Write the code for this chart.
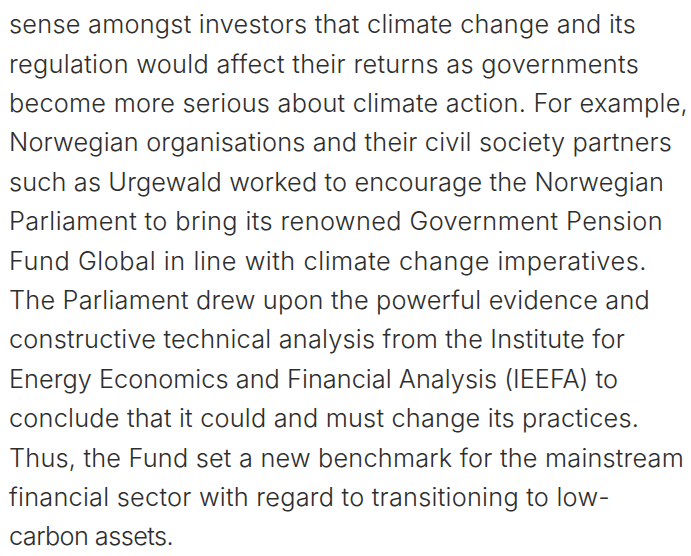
<!DOCTYPE html>
<html>
<head>
<meta charset="utf-8">
<script src="https://cdn.jsdelivr.net/npm/chart.js@4"></script>
<style>
  html, body { margin: 0; padding: 0; background: #ffffff; }
  body { width: 691px; height: 556px; position: relative; overflow: hidden; }
  .ln { position: absolute; left: 0; white-space: pre; font-family: Inter, Lato, sans-serif;
        font-weight: 300; color: #2e2e2e; line-height: 1; }
</style>
</head>
<body>
<div id="page"></div>
<script>
const lines = [
  "sense amongst investors that climate change and its",
  "regulation would affect their returns as governments",
  "become more serious about climate action. For example,",
  "Norwegian organisations and their civil society partners",
  "such as Urgewald worked to encourage the Norwegian",
  "Parliament to bring its renowned Government Pension",
  "Fund Global in line with climate change imperatives.",
  "The Parliament drew upon the powerful evidence and",
  "constructive technical analysis from the Institute for",
  "Energy Economics and Financial Analysis (IEEFA) to",
  "conclude that it could and must change its practices.",
  "Thus, the Fund set a new benchmark for the mainstream",
  "financial sector with regard to transitioning to low-",
  "carbon assets."
];
const lineEnds = [636, 639, 688, 672, 664, 663, 647, 650, 625, 618, 639, 684, 610, 173];
const startX = 9, firstBaseline = 33, lineGap = 39.4;
const fontSize = 25.3;

const page = document.getElementById('page');
const ctx = document.createElement('canvas').getContext('2d');
ctx.font = '300 ' + fontSize + 'px Inter';
lines.forEach((t, i) => {
  const d = document.createElement('div');
  d.className = 'ln';
  d.textContent = t;
  d.style.fontSize = fontSize + 'px';
  const w = ctx.measureText(t).width;
  const ls = (lineEnds[i] - startX - w) / (t.length);
  d.style.letterSpacing = ls.toFixed(3) + 'px';
  d.style.left = startX + 'px';
  d.style.top = (firstBaseline + i * lineGap - 0.864 * fontSize) + 'px';
  page.appendChild(d);
});
</script>
</body>
</html>
